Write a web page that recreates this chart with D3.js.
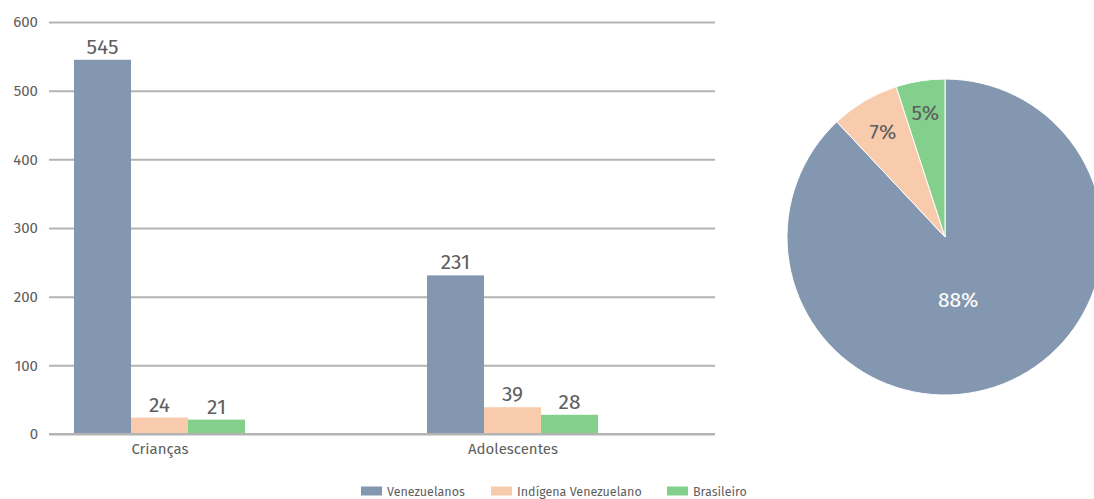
<!DOCTYPE html>
<html>
<head>
<meta charset="utf-8">
<script src="https://cdn.jsdelivr.net/npm/d3@7/dist/d3.min.js"></script>
<style>
  html, body { margin: 0; padding: 0; background: #fff; }
  svg { display: block; font-family: "Fira Sans", "Noto Sans", sans-serif; }
</style>
</head>
<body>
<svg id="chart" width="1094" height="499"></svg>
<script>
// Age groups and origin series
const categories = ["Crianças", "Adolescentes"];
const seriesNames = ["Venezuelanos", "Indígena Venezuelano", "Brasileiro"];
const venezuelanos = [545, 231];
const indigena = [24, 39];
const brasileiro = [21, 28];
const yTicks = [0, 100, 200, 300, 400, 500, 600];

// Share of the total by origin (%)
const pieValues = [88, 7, 5];
const pieLabels = ["88%", "7%", "5%"];

const colors = ["#8497b0", "#f8cbad", "#82d08b"];
const textColor = "#5e5e5e";
const gridColor = "#b3b3b3";
const fontFamily = "'Fira Sans', 'Noto Sans', sans-serif";

const svg = d3.select("#chart");

// ---- Bar chart ----
const plot = { left: 49, right: 715, top: 22, bottom: 434 };

const y = d3.scaleLinear().domain([0, 600]).range([plot.bottom, plot.top]);

const x0 = d3.scalePoint().domain(categories).range([159.5, 512.5]);
const x1 = d3.scaleBand().domain(seriesNames).range([-85.5, 85.5]).padding(0);

// horizontal gridlines with tick labels
const yAxis = d3.axisLeft(y).tickValues(yTicks).tickSize(-(plot.right - plot.left)).tickPadding(11);
const gy = svg.append("g").attr("transform", `translate(${plot.left},0)`).call(yAxis);
gy.select(".domain").remove();
gy.selectAll(".tick line").attr("stroke", gridColor).attr("stroke-width", 2);
gy.selectAll(".tick text")
  .attr("fill", textColor)
  .attr("font-size", 15)
  .attr("font-family", fontFamily);

// category labels under the baseline
const xAxis = d3.axisBottom(x0).tickSize(0).tickPadding(9);
const gx = svg.append("g").attr("transform", `translate(0,${plot.bottom})`).call(xAxis);
gx.select(".domain").remove();
gx.selectAll(".tick text")
  .attr("fill", textColor)
  .attr("font-size", 15)
  .attr("font-family", fontFamily);

const rows = categories.map((c, i) => ({
  category: c,
  values: [venezuelanos[i], indigena[i], brasileiro[i]].map((v, j) => ({ name: seriesNames[j], value: v, idx: j }))
}));

const groups = svg.append("g").selectAll("g")
  .data(rows)
  .join("g")
  .attr("transform", d => `translate(${x0(d.category)},0)`);

groups.selectAll("rect")
  .data(d => d.values)
  .join("rect")
  .attr("x", d => x1(d.name))
  .attr("width", x1.bandwidth())
  .attr("y", d => y(d.value))
  .attr("height", d => y(0) - y(d.value))
  .attr("fill", d => colors[d.idx]);

groups.selectAll("text.value")
  .data(d => d.values)
  .join("text")
  .attr("class", "value")
  .attr("x", d => x1(d.name) + x1.bandwidth() / 2)
  .attr("y", d => y(d.value) - 6)
  .attr("text-anchor", "middle")
  .attr("fill", textColor)
  .attr("font-size", 21)
  .text(d => d.value);

// baseline drawn over the bars
svg.append("line")
  .attr("x1", plot.left).attr("x2", plot.right)
  .attr("y1", y(0)).attr("y2", y(0))
  .attr("stroke", gridColor).attr("stroke-width", 2);

// ---- Pie chart ----
const pieCenter = [945, 237];
const radius = 158;
const pie = d3.pie().sort(null).value(d => d)(pieValues);
const arc = d3.arc().innerRadius(0).outerRadius(radius);
const labelRadius = [64, 122, 126];
const labelAngleShift = [0.17, 0, 0];

const gp = svg.append("g").attr("transform", `translate(${pieCenter[0]},${pieCenter[1]})`);
gp.selectAll("path")
  .data(pie)
  .join("path")
  .attr("d", arc)
  .attr("fill", (d, i) => colors[i])
  .attr("stroke", "#ffffff")
  .attr("stroke-width", 1);

gp.selectAll("text")
  .data(pie)
  .join("text")
  .attr("transform", (d, i) => {
    const a = (d.startAngle + d.endAngle) / 2 + labelAngleShift[i];
    const r = labelRadius[i];
    return `translate(${r * Math.sin(a)},${-r * Math.cos(a)})`;
  })
  .attr("text-anchor", "middle")
  .attr("dominant-baseline", "central")
  .attr("fill", (d, i) => i === 0 ? "#ffffff" : textColor)
  .attr("font-size", 21)
  .text((d, i) => pieLabels[i]);

// ---- Legend ----
const legendX = [361, 491, 667];
const legend = svg.append("g").selectAll("g")
  .data(seriesNames)
  .join("g")
  .attr("transform", (d, i) => `translate(${legendX[i]},491)`);
legend.append("rect")
  .attr("x", 0).attr("y", -4.5)
  .attr("width", 21).attr("height", 9)
  .attr("fill", (d, i) => colors[i]);
legend.append("text")
  .attr("x", 26).attr("y", 0)
  .attr("dominant-baseline", "central")
  .attr("fill", textColor)
  .attr("font-size", 12.5)
  .text(d => d);
</script>
</body>
</html>
